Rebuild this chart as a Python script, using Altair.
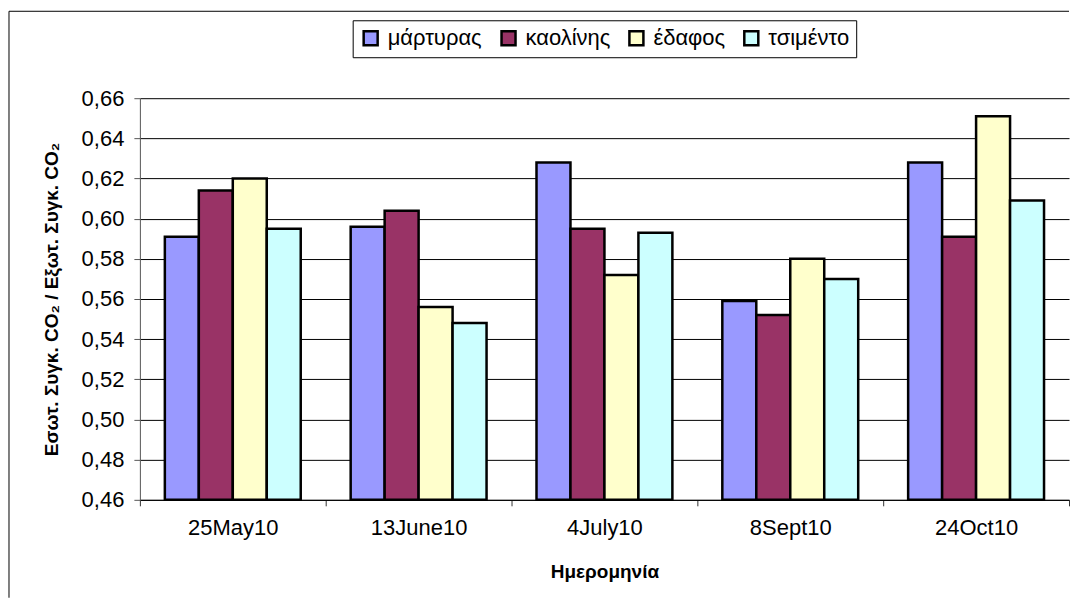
import altair as alt
import pandas as pd

dates = ["25May10", "13June10", "4July10", "8Sept10", "24Oct10"]
series = ["μάρτυρας", "καολίνης", "έδαφος", "τσιμέντο"]
colors = ["#9999FF", "#993366", "#FFFFCC", "#CCFFFF"]
martyras = [0.591, 0.596, 0.628, 0.559, 0.628]
kaolinis = [0.614, 0.604, 0.595, 0.552, 0.591]
edafos = [0.620, 0.556, 0.572, 0.580, 0.651]
tsimento = [0.595, 0.548, 0.593, 0.570, 0.609]
y_ticks = [0.46, 0.48, 0.50, 0.52, 0.54, 0.56, 0.58, 0.60, 0.62, 0.64, 0.66]

rows = []
for s, vals in zip(series, [martyras, kaolinis, edafos, tsimento]):
    for d, v in zip(dates, vals):
        rows.append({"date": d, "series": s, "value": v})
df = pd.DataFrame(rows)

FONT = "Liberation Sans"

bars = alt.Chart(df).mark_bar(stroke="black", strokeWidth=2.5).encode(
    x=alt.X("date:N", sort=dates, title="Ημερομηνία",
            scale=alt.Scale(paddingInner=0, paddingOuter=0),
            axis=alt.Axis(labelAngle=0, tickBand="extent", grid=False,
                          domainColor="#000000", tickColor="#333333", tickSize=6,
                          labelFontSize=22, labelPadding=12, titleFontSize=19,
                          titleFontWeight="bold", titlePadding=24)),
    xOffset=alt.XOffset("series:N", sort=series,
                        scale=alt.Scale(paddingOuter=0.735, paddingInner=0)),
    y=alt.Y("value:Q", title="Εσωτ. Συγκ. CO₂ / Εξωτ. Συγκ. CO₂",
            scale=alt.Scale(domain=[0.46, 0.66], nice=False, zero=False),
            axis=alt.Axis(values=y_ticks, grid=True, gridColor="#000000", gridWidth=1,
                          domainColor="#555555", tickColor="#555555", tickSize=6,
                          labelFontSize=22, labelPadding=10,
                          labelExpr="replace(format(datum.value, '.2f'), '.', ',')",
                          titleFontSize=19, titleFontWeight="bold", titlePadding=20)),
    y2=alt.datum(0.46),
    color=alt.Color("series:N", sort=series,
                    scale=alt.Scale(domain=series, range=colors),
                    legend=alt.Legend(orient="none", legendX=213, legendY=-78,
                                      direction="horizontal", title=None,
                                      strokeColor="#000000", padding=7,
                                      symbolType="square", symbolSize=196,
                                      symbolStrokeColor="#000000", symbolStrokeWidth=2.5,
                                      symbolOpacity=1,
                                      labelFontSize=22, labelOffset=6, columnPadding=14)),
)

frame_data = alt.Data(values=[{"k": 1}])
top_line = alt.Chart(frame_data).mark_rule(color="#000000", strokeWidth=1).encode(
    x=alt.value(-131), x2=alt.value(930), y=alt.value(-87))
left_line = alt.Chart(frame_data).mark_rule(color="#000000", strokeWidth=1).encode(
    x=alt.value(-131), y=alt.value(-87), y2=alt.value(500))

chart = alt.layer(bars, top_line, left_line).properties(
    width=930, height=402,
    padding={"left": 0, "top": 2, "right": 0, "bottom": 0},
).configure(font=FONT).configure_view(stroke=None).configure_axis(
    labelColor="#000000", titleColor="#000000", labelFont=FONT, titleFont=FONT
).configure_legend(labelFont=FONT, labelColor="#000000")

chart.save("out.html", embed_options={"renderer": "svg", "actions": False})
